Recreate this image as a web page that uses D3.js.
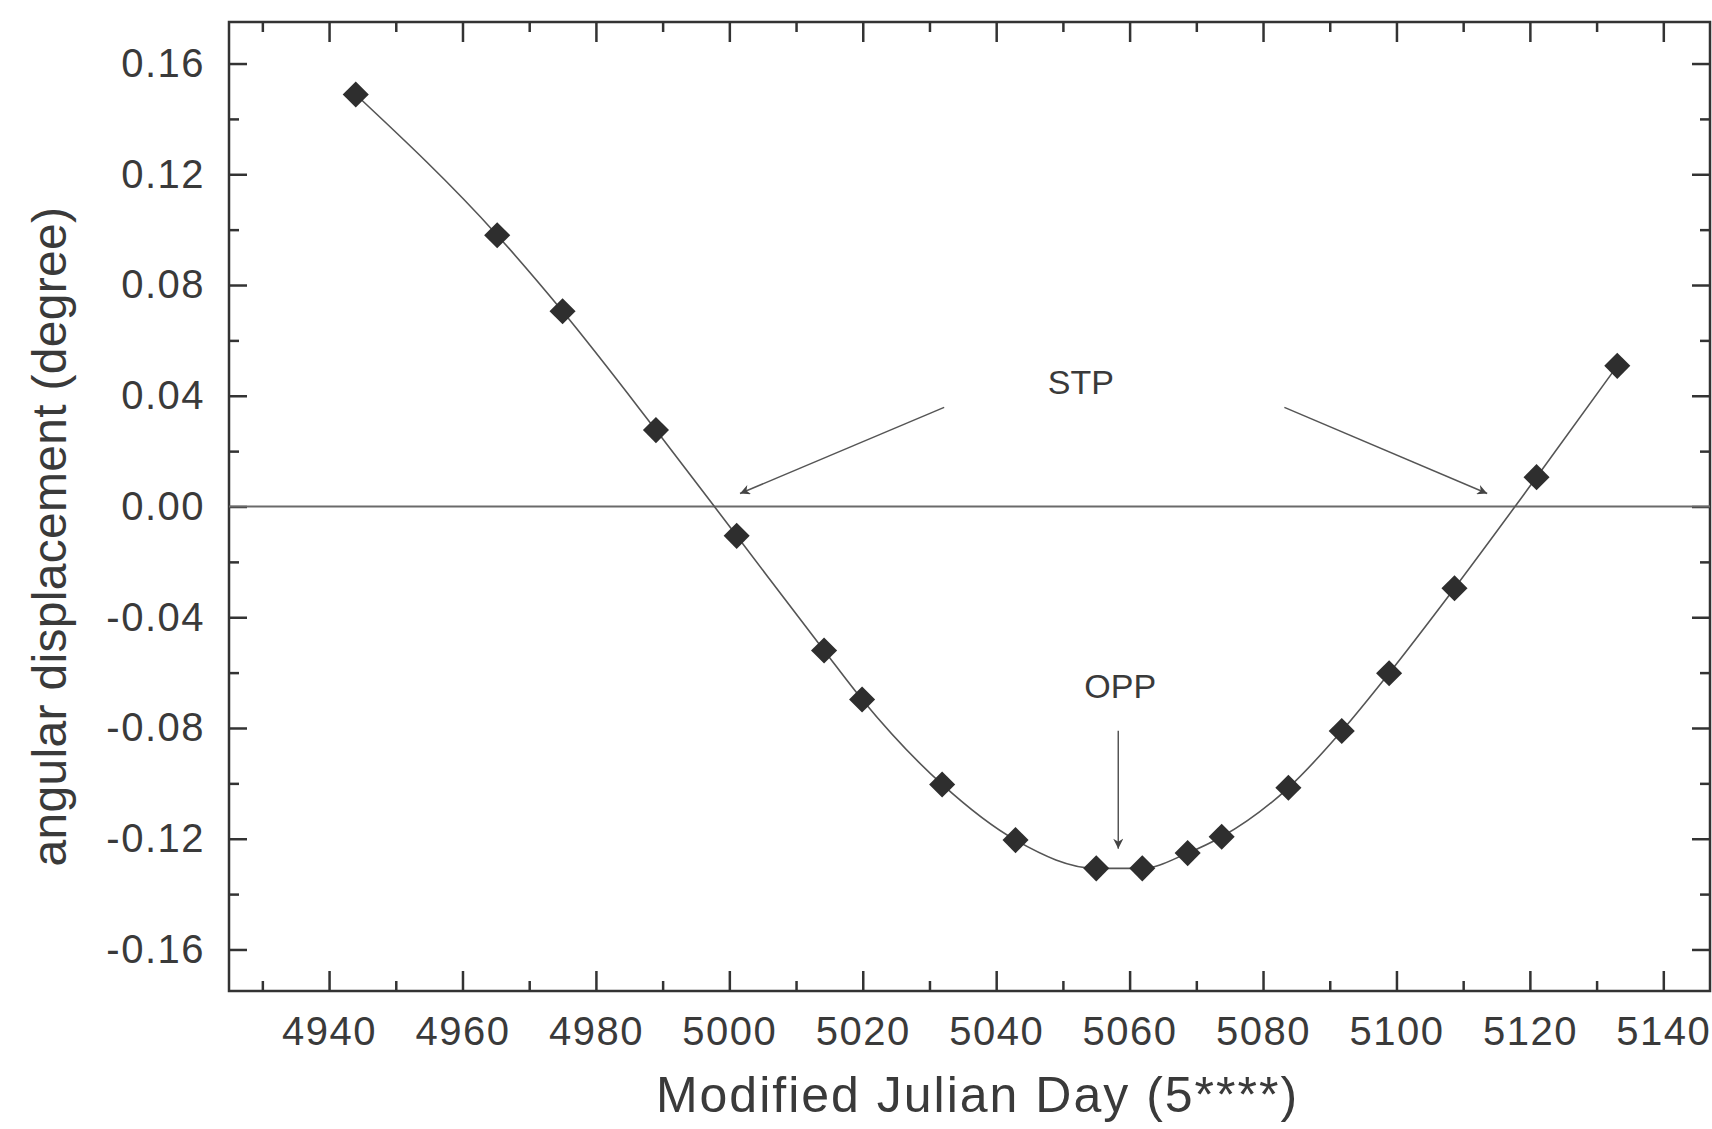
<!DOCTYPE html>
<html>
<head>
<meta charset="utf-8">
<script src="https://cdn.jsdelivr.net/npm/d3@7"></script>
<style>
  body { margin: 0; background: #fff; }
  text { font-family: "Liberation Sans", Arial, sans-serif; fill: #3a3a3a; }
</style>
</head>
<body>
<div id="chart"></div>
<script>
// observed points (MJD minus 50000, degrees)
const mjd  = [4944, 4965.2, 4975, 4989, 5001.1, 5014.2, 5019.9, 5031.9, 5042.9, 5055, 5061.9, 5068.7, 5073.8, 5083.8, 5091.8, 5098.9, 5108.7, 5121, 5133.1];
const disp = [0.1488, 0.098, 0.0705, 0.0276, -0.0106, -0.052, -0.0697, -0.1004, -0.1205, -0.1307, -0.1307, -0.1252, -0.1193, -0.1016, -0.0811, -0.0602, -0.0295, 0.0106, 0.0508];

const xMajor = d3.range(4940, 5141, 20);
const xMinor = d3.range(4930, 5141, 10).filter(d => d % 20 !== 0);
const yMajor = [-0.16, -0.12, -0.08, -0.04, 0, 0.04, 0.08, 0.12, 0.16];
const yMinor = [-0.14, -0.10, -0.06, -0.02, 0.02, 0.06, 0.10, 0.14];

// annotation anchors in data units
const stpLabel = { x: 5052.7, y: 0.044, text: "STP" };
const stpArrows = [
  { x1: 5032.2, y1: 0.0358, x2: 5001.6, y2: 0.0047 },
  { x1: 5083.2, y1: 0.0358, x2: 5113.6, y2: 0.0047 }
];
const oppLabel = { x: 5058.6, y: -0.066, text: "OPP" };
const oppArrow = { x1: 5058.3, y1: -0.081, x2: 5058.3, y2: -0.1236 };

const width = 1712, height = 1129,
  margin = ({ top: 22, right: 2, bottom: 138, left: 229 });

const svg = d3.select("#chart")
  .append("svg")
  .attr("width", width)
  .attr("height", height);

const x = d3.scaleLinear()
  .domain([4925, 5147])
  .range([margin.left, width - margin.right]);

const y = d3.scaleLinear()
  .domain([-0.175, 0.175])
  .range([height - margin.bottom, margin.top]);

const axisColor = "#333";
// plain hyphen for negatives, like the original
const yFormat = d => d3.format(".2f")(d).replace("−", "-");

function styleAxis(g) {
  g.select(".domain").remove();
  g.selectAll(".tick line").attr("stroke", axisColor).attr("stroke-width", 2.5);
  g.selectAll(".tick text").attr("font-size", 40).attr("letter-spacing", 1.5).attr("fill", "#404040");
}

// bottom axis, ticks pointing inward
svg.append("g")
  .attr("transform", `translate(0,${height - margin.bottom})`)
  .call(d3.axisBottom(x).tickValues(xMajor).tickSizeInner(-20).tickSizeOuter(0).tickPadding(26).tickFormat(d3.format("d")))
  .call(styleAxis);
svg.append("g")
  .attr("transform", `translate(0,${height - margin.bottom})`)
  .call(d3.axisBottom(x).tickValues(xMinor).tickSize(-10).tickFormat(""))
  .call(styleAxis);

// top axis
svg.append("g")
  .attr("transform", `translate(0,${margin.top})`)
  .call(d3.axisTop(x).tickValues(xMajor).tickSize(-20).tickFormat(""))
  .call(styleAxis);
svg.append("g")
  .attr("transform", `translate(0,${margin.top})`)
  .call(d3.axisTop(x).tickValues(xMinor).tickSize(-10).tickFormat(""))
  .call(styleAxis);

// left axis
svg.append("g")
  .attr("transform", `translate(${margin.left},0)`)
  .call(d3.axisLeft(y).tickValues(yMajor).tickSizeInner(-18).tickSizeOuter(0).tickPadding(24).tickFormat(yFormat))
  .call(styleAxis);
svg.append("g")
  .attr("transform", `translate(${margin.left},0)`)
  .call(d3.axisLeft(y).tickValues(yMinor).tickSize(-10).tickFormat(""))
  .call(styleAxis);

// right axis
svg.append("g")
  .attr("transform", `translate(${width - margin.right},0)`)
  .call(d3.axisRight(y).tickValues(yMajor).tickSize(-18).tickFormat(""))
  .call(styleAxis);
svg.append("g")
  .attr("transform", `translate(${width - margin.right},0)`)
  .call(d3.axisRight(y).tickValues(yMinor).tickSize(-10).tickFormat(""))
  .call(styleAxis);

// frame
svg.append("rect")
  .attr("x", margin.left)
  .attr("y", margin.top)
  .attr("width", width - margin.left - margin.right)
  .attr("height", height - margin.top - margin.bottom)
  .attr("fill", "none")
  .attr("stroke", axisColor)
  .attr("stroke-width", 2.5);

// zero line
svg.append("line")
  .attr("x1", margin.left).attr("x2", width - margin.right)
  .attr("y1", y(0)).attr("y2", y(0))
  .attr("stroke", "#6a6a6a")
  .attr("stroke-width", 2);

const points = mjd.map((d, i) => ({ day: d, value: disp[i] }));

// fitted smooth curve
const line = d3.line()
  .x(d => x(d.day))
  .y(d => y(d.value))
  .curve(d3.curveMonotoneX);

svg.append("path")
  .datum(points)
  .attr("fill", "none")
  .attr("stroke", "#555")
  .attr("stroke-width", 1.6)
  .attr("d", line);

// diamond markers (rotated squares)
svg.append("g")
  .selectAll("path")
  .data(points)
  .join("path")
  .attr("d", d3.symbol(d3.symbolSquare, 340))
  .attr("transform", d => `translate(${x(d.day)},${y(d.value)}) rotate(45)`)
  .attr("fill", "#2e2e2e");

// arrowhead
svg.append("defs").append("marker")
  .attr("id", "head")
  .attr("viewBox", "0 0 10 10")
  .attr("refX", 10).attr("refY", 5)
  .attr("markerWidth", 14).attr("markerHeight", 10)
  .attr("markerUnits", "userSpaceOnUse")
  .attr("orient", "auto")
  .append("path")
  .attr("d", "M0,0 L10,5 L0,10 L3,5 Z")
  .attr("fill", "#444");

for (const a of [...stpArrows, oppArrow]) {
  svg.append("line")
    .attr("x1", x(a.x1)).attr("y1", y(a.y1))
    .attr("x2", x(a.x2)).attr("y2", y(a.y2))
    .attr("stroke", "#555")
    .attr("stroke-width", 1.5)
    .attr("marker-end", "url(#head)");
}

for (const l of [stpLabel, oppLabel]) {
  svg.append("text")
    .attr("x", x(l.x)).attr("y", y(l.y))
    .attr("text-anchor", "middle")
    .attr("dominant-baseline", "middle")
    .attr("font-size", 34)
    .text(l.text);
}

// axis titles
svg.append("text")
  .attr("x", (margin.left + width - margin.right) / 2 + 8)
  .attr("y", 1112)
  .attr("text-anchor", "middle")
  .attr("font-size", 50)
  .attr("letter-spacing", 2)
  .attr("fill", "#404040")
  .text("Modified Julian Day (5****)");

svg.append("text")
  .attr("transform", `translate(66,${(margin.top + height - margin.bottom) / 2 + 30}) rotate(-90)`)
  .attr("text-anchor", "middle")
  .attr("font-size", 48)
  .attr("letter-spacing", 0.3)
  .attr("fill", "#404040")
  .text("angular displacement (degree)");
</script>
</body>
</html>
